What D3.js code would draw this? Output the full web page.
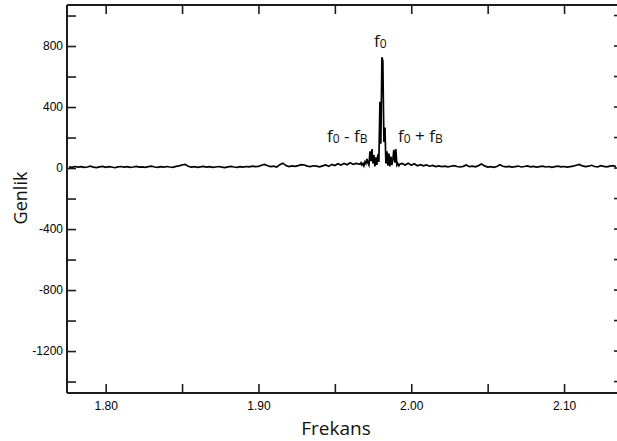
<!DOCTYPE html>
<html>
<head>
<meta charset="utf-8">
<script src="https://cdn.jsdelivr.net/npm/d3@7"></script>
<style>
  html, body { margin: 0; padding: 0; background: #fff; overflow: hidden; }
  svg { display: block; }
</style>
</head>
<body>
<svg id="chart" width="617" height="441"></svg>
<script>
// Spectrum samples: frequency (lower grid, fine grid round the carrier, upper grid)
const freqLow = [1.776,1.778,1.780,1.782,1.784,1.786,1.788,1.790,1.792,1.794,1.796,1.798,1.800,1.802,1.804,1.806,1.808,1.810,1.812,1.814,1.816,1.818,1.820,1.822,1.824,1.826,1.828,1.830,1.832,1.834,1.836,1.838,1.840,1.842,1.844,1.846,1.848,1.850,1.852,1.854,1.856,1.858,1.860,1.862,1.864,1.866,1.868,1.870,1.872,1.874,1.876,1.878,1.880,1.882,1.884,1.886,1.888,1.890,1.892,1.894,1.896,1.898,1.900,1.902,1.904,1.906,1.908,1.910,1.912,1.914,1.916,1.918,1.920,1.922,1.924,1.926,1.928,1.930,1.932,1.934,1.936,1.938,1.940,1.942,1.944,1.946,1.948,1.950,1.952,1.954,1.956,1.958,1.960,1.962,1.964];
const ampLow = [8,5,10,6,9,4,7,12,6,3,8,11,5,9,7,2,8,10,6,9,4,7,11,6,8,5,9,12,7,4,9,6,10,7,5,11,14,20,24,12,6,9,5,8,11,6,9,4,7,10,6,3,8,11,7,5,9,6,10,8,12,9,11,18,24,15,9,12,7,22,32,16,10,14,11,16,22,20,13,10,15,12,8,14,20,11,24,16,28,19,30,22,35,24,30];

const freqCore = [1.9664,1.9671,1.9677,1.9684,1.9690,1.9697,1.9703,1.9710,1.9716,1.9723,1.9730,1.9736,1.9743,1.9749,1.9756,1.9762,1.9769,1.9775,1.9782,1.9788,1.9795,1.9801,1.9808,1.9814,1.9821,1.9828,1.9834,1.9841,1.9847,1.9854,1.9860,1.9867,1.9873,1.9880,1.9886,1.9893,1.9899,1.9906,1.9912,1.9919,1.9925];
const ampCore = [25,35,20,30,15,40,30,60,35,20,110,45,125,30,85,10,70,20,90,40,435,160,726,705,170,265,30,110,15,95,10,75,20,60,120,35,125,20,30,15,25];

const freqHigh = [1.994,1.996,1.998,2.000,2.002,2.004,2.006,2.008,2.010,2.012,2.014,2.016,2.018,2.020,2.022,2.024,2.026,2.028,2.030,2.032,2.034,2.036,2.038,2.040,2.042,2.044,2.046,2.048,2.050,2.052,2.054,2.056,2.058,2.060,2.062,2.064,2.066,2.068,2.070,2.072,2.074,2.076,2.078,2.080,2.082,2.084,2.086,2.088,2.090,2.092,2.094,2.096,2.098,2.100,2.102,2.104,2.106,2.108,2.110,2.112,2.114,2.116,2.118,2.120,2.122,2.124,2.126,2.128,2.130,2.132,2.134];
const ampHigh = [30,20,32,18,28,15,22,14,20,12,17,10,14,9,13,8,12,16,10,7,11,20,9,12,8,16,26,14,6,9,5,10,22,12,8,11,6,9,13,7,10,14,8,11,6,9,12,7,10,5,9,13,8,10,6,9,12,18,24,14,9,12,18,10,7,15,11,8,13,16,10];

// Axis ticks and labels
const xTicks = [1.80,1.85,1.90,1.95,2.00,2.05,2.10];
const xTickLabels = ["1.80","1.90","2.00","2.10"];
const yTicks = [1000,800,600,400,200,0,-200,-400,-600,-800,-1000,-1200,-1400];
const yTickLabels = ["800","400","0","-400","-800","-1200"];

const xDomain = [1.7747, 2.1347];
const yDomain = [-1475, 1069];

const svg = d3.select("#chart");
const plotLeft = 67, plotRight = 623, plotTop = 5, plotBottom = 393;

const x = d3.scaleLinear().domain(xDomain).range([plotLeft, plotLeft + (xDomain[1]-xDomain[0]) * 1528]);
const y = d3.scaleLinear().domain(yDomain).range([plotBottom, plotTop]);

const freqs = freqLow.concat(freqCore, freqHigh);
const amps = ampLow.concat(ampCore, ampHigh);
const points = freqs.map((f, i) => [f, amps[i]]);

const frameColor = "#1c1c1c";
const tickFont = "Liberation Sans, Arial, sans-serif";

function styleAxis(g) {
  g.select(".domain").attr("stroke", frameColor).attr("stroke-width", 2);
  g.selectAll(".tick line").attr("stroke", frameColor).attr("stroke-width", 1.6);
  g.selectAll(".tick text").attr("fill", "#000").attr("font-family", tickFont).attr("font-size", 12);
}

const fmtX = d3.format(".2f");

// Bottom axis
svg.append("g")
  .attr("transform", `translate(0,${plotBottom})`)
  .call(d3.axisBottom(x).tickValues(xTicks).tickSizeInner(-9).tickSizeOuter(0).tickPadding(8)
    .tickFormat(d => xTickLabels.includes(fmtX(d)) ? fmtX(d) : ""))
  .call(styleAxis)
  .call(g => g.select(".domain").attr("d", `M${plotLeft},0H${plotRight}`));

// Top axis
svg.append("g")
  .attr("transform", `translate(0,${plotTop})`)
  .call(d3.axisTop(x).tickValues(xTicks).tickSizeInner(-9).tickSizeOuter(0).tickFormat(""))
  .call(styleAxis)
  .call(g => g.select(".domain").attr("d", `M${plotLeft},0H${plotRight}`));

// Left axis
svg.append("g")
  .attr("transform", `translate(${plotLeft},0)`)
  .call(d3.axisLeft(y).tickValues(yTicks).tickSizeInner(-9).tickSizeOuter(0).tickPadding(4)
    .tickFormat(d => yTickLabels.includes(String(d)) ? String(d) : ""))
  .call(styleAxis)
  .call(g => g.select(".domain").attr("d", `M0,${plotTop}V${plotBottom}`));

// Right-hand tick stubs (the right frame itself lies just past the view)
svg.append("g")
  .selectAll("line")
  .data(yTicks)
  .join("line")
  .attr("x1", 614).attr("x2", 617)
  .attr("y1", d => y(d)).attr("y2", d => y(d))
  .attr("stroke", frameColor).attr("stroke-width", 1.6);

// Spectrum trace
svg.append("path")
  .datum(points)
  .attr("fill", "none")
  .attr("stroke", "#000")
  .attr("stroke-width", 1.7)
  .attr("stroke-linejoin", "miter")
  .attr("d", d3.line().x(d => x(d[0])).y(d => y(d[1])));

// Axis titles
const titleFont = "Open Sans, Lato, sans-serif";
svg.append("text")
  .attr("x", 336).attr("y", 435)
  .attr("text-anchor", "middle")
  .attr("font-family", titleFont).attr("font-size", 19).attr("fill", "#111")
  .text("Frekans");
svg.append("text")
  .attr("transform", "translate(27,198) rotate(-90)")
  .attr("text-anchor", "middle")
  .attr("font-family", titleFont).attr("font-size", 18).attr("fill", "#111")
  .text("Genlik");

// Peak annotations
function label(xp, yp, parts) {
  const t = svg.append("text").attr("x", xp).attr("y", yp)
    .attr("font-family", titleFont).attr("font-size", 17).attr("fill", "#111");
  parts.forEach(p => {
    const s = t.append("tspan").text(p.text);
    if (p.sub) s.attr("font-size", 12).attr("dy", 1);
    if (p.back) s.attr("dy", -1);
  });
}
label(374, 47, [{text: "f"}, {text: "0", sub: true}]);
label(327, 142, [{text: "f"}, {text: "0", sub: true}, {text: " - f", back: true}, {text: "B", sub: true}]);
label(398, 142, [{text: "f"}, {text: "0", sub: true}, {text: " + f", back: true}, {text: "B", sub: true}]);
</script>
</body>
</html>
